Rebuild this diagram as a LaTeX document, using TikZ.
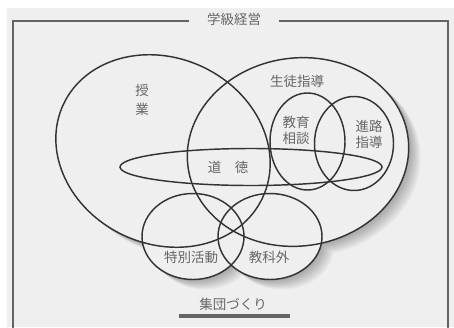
\documentclass[tikz,border=0pt]{standalone}
\usepackage{fontspec}
\newfontfamily\jp{Noto Sans CJK JP}
\definecolor{bgc}{HTML}{EFEFEF}
\definecolor{linec}{HTML}{333333}
\definecolor{txtc}{HTML}{666666}
\definecolor{framec}{HTML}{646464}
\tikzset{
  venn/.style={draw=linec, line width=1.45pt},
  lbl/.style={text=txtc, font=\jp\fontsize{13.5}{16}\selectfont, inner sep=1pt, align=center},
  framel/.style={draw=framec, line width=1.4pt},
}
\newcommand{\allellipses}{%
  (163,151) ellipse[x radius=110, y radius=93, rotate=-25]
  (298,152) ellipse[x radius=111, y radius=94, rotate=8]
  (193,236.5) ellipse[x radius=51, y radius=43]
  (270,236.5) ellipse[x radius=52, y radius=43]
}
\begin{document}
\begin{tikzpicture}[x=1pt,y=-1pt]
\useasboundingbox (0,0) rectangle (454,327);
\fill[white] (0,0) rectangle (454,327);
\fill[bgc] (7,8) rectangle (454,327);
% soft shadow
\foreach \s in {1,...,10}{
  \fill[black, opacity=0.03, shift={(1.2*\s,1.0*\s)}] \allellipses;
}
\fill[bgc] \allellipses;
% frame
\node[lbl, fill=bgc, inner xsep=18pt, inner ysep=2pt] (title) at (234,19) {学級経営};
\coordinate (tl) at (13,21);
\coordinate (tr) at (448,21);
\coordinate (bl) at (13,335);
\coordinate (br) at (448,335);
\draw[framel] (title.west |- tl) -- (tl) -- (bl);
\draw[framel] (title.east |- tr) -- (tr) -- (br);
% ellipses
\draw[venn] (163,151) ellipse[x radius=110, y radius=93, rotate=-25];
\draw[venn] (298,152) ellipse[x radius=111, y radius=94, rotate=8];
\draw[venn] (251,167) ellipse[x radius=131, y radius=18.5];
\draw[venn] (307.5,141.5) ellipse[x radius=37.5, y radius=48.5];
\draw[venn] (354,143.5) ellipse[x radius=39.5, y radius=47];
\draw[venn] (193,236.5) ellipse[x radius=51, y radius=43];
\draw[venn] (270,236.5) ellipse[x radius=52, y radius=43];
% labels
\node[lbl, font=\jp\fontsize{13.5}{19}\selectfont] (jugyo) at (142,99.5) {授\\業};
\node[lbl] (seito) at (297,81) {生徒指導};
\node[lbl, font=\jp\fontsize{13.5}{16}\selectfont] (kyoiku) at (296,130) {教育\\相談};
\node[lbl, font=\jp\fontsize{13.5}{15.5}\selectfont] (shinro) at (369,134.5) {進路\\指導};
\node[lbl] (dotoku) at (228,167) {道　徳};
\node[lbl] (tokubetsu) at (191,257) {特別活動};
\node[lbl] (kyokagai) at (269,257) {教科外};
\node[lbl] (shudan) at (233,304) {集団づくり};
\coordinate (barl) at (179,316);
\coordinate (barr) at (290,316);
\draw[draw=framec, line width=3.5pt] (barl) -- (barr);
\end{tikzpicture}
\end{document}
